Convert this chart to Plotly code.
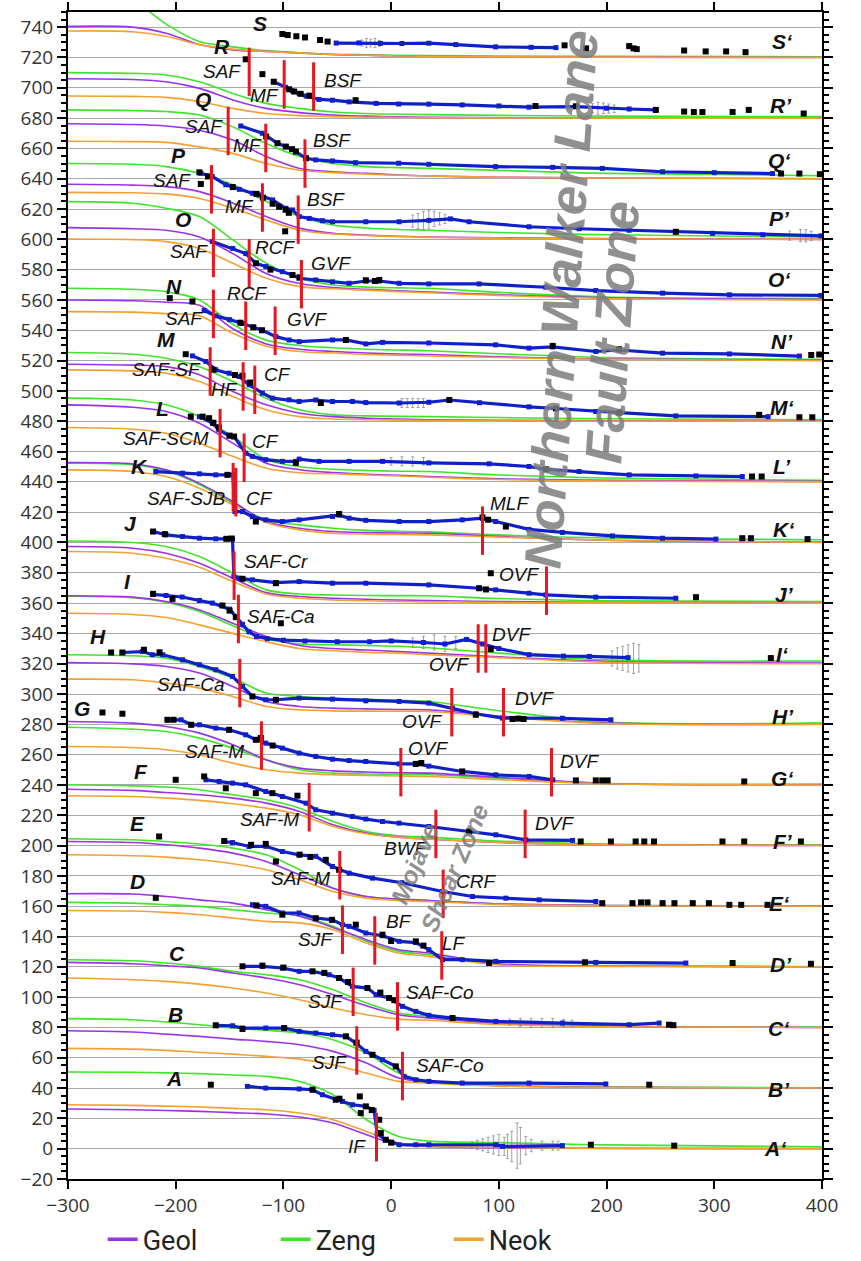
import plotly.graph_objects as go

# ---------------------------------------------------------------------------
# Fault-parallel velocity profiles A-A' ... S-S' (each offset by 40 mm/yr)
# ---------------------------------------------------------------------------
PROFILES = "ABCDEFGHIJKLMNOPQRS"

# distance along profile (km) at which the model curves are sampled
X_GRID = [-300, -240, -209, -178, -147, -116, -85, -54, -23, 7, 35, 100, 200, 400]

# --- model velocity curves (Geol / Zeng / Neok) -----------------------------
geol_A = [26.2, 25.7, 25.2, 24.6, 23.8, 22.9, 20.9, 16.9, 9.2, 2.6, 1.5, 0.6, 0.2, 0]
zeng_A = [50.6, 50.4, 50, 49.5, 48.6, 47.7, 44.4, 35.6, 19.1, 8, 5, 4, 2.5, 1.2]
neok_A = [29, 28.6, 28.1, 27.5, 26.6, 25.7, 23.5, 19.1, 11.4, 3.7, 2, 0.8, 0.3, 0]

geol_B = [77.8, 77, 75.6, 74.1, 72.3, 70.8, 68.6, 64.2, 56.5, 46.6, 43.8, 41.5, 40.5, 40]
zeng_B = [85.8, 85.1, 83.6, 81.8, 79.6, 78.1, 76.3, 71.9, 63.1, 49.9, 44.4, 41.8, 40.6, 40.2]
neok_B = [66.2, 65.7, 64.9, 63.5, 62.4, 60.9, 59.1, 55.4, 49.9, 44.4, 43.3, 41.3, 40.4, 40]

geol_C = [122.9, 122, 120.7, 119.2, 115.9, 112.6, 108.2, 101.6, 94.3, 88.4, 86.2, 82.5, 80.8, 80]
zeng_C = [124.7, 124, 122.5, 120.3, 117, 114.8, 111.5, 104.9, 96.1, 89.5, 87.3, 83, 81, 80.3]
neok_C = [112.6, 111.5, 110.4, 108.6, 106, 102.7, 98.3, 92.8, 88.4, 85.5, 84.7, 82, 80.5, 80]

geol_D = [168.2, 168, 166.4, 164.2, 162, 157.7, 153.3, 146, 137.9, 131.3, 129.1, 122, 120.5, 120]
zeng_D = [162.5, 162, 161, 159.9, 157.7, 155.5, 153.5, 146.7, 136.8, 130.2, 128, 121.5, 120.5, 120]
neok_D = [157.2, 156.8, 155.9, 154.4, 152.2, 150, 149, 144.5, 135.7, 129.1, 126.9, 121.2, 120.3, 120]

geol_E = [202.7, 202, 200.5, 198.3, 195, 189.5, 180.7, 171.9, 166.4, 164.7, 163.8, 161.5, 160.5, 160]
zeng_E = [204.5, 203.8, 202.7, 201, 198.3, 193.9, 184, 171.9, 166.4, 164.7, 163.8, 161.5, 160.5, 160.2]
neok_E = [193.9, 193.3, 192.4, 190.6, 188, 184, 177.4, 169.7, 165.3, 163.8, 163.1, 161.2, 160.3, 160]

geol_F = [237.2, 236.4, 235, 233.5, 231.3, 228, 222.5, 213.7, 208.2, 205.6, 204.3, 202, 200.5, 200]
zeng_F = [240.1, 239.4, 238.6, 236.8, 233.5, 230.2, 224.7, 215.9, 209.3, 206.5, 205.6, 203, 201, 200.5]
neok_F = [232.9, 232.4, 231.3, 229.8, 227.6, 224.7, 220.3, 212.6, 207.8, 205.4, 204.3, 202, 200.5, 200]

geol_G = [281.9, 280.8, 278.6, 274.2, 266.5, 256.6, 251.1, 249.3, 248.5, 248, 247.8, 245, 241, 240.2]
zeng_G = [278.1, 276.8, 275.3, 270.9, 264.3, 256.5, 250, 247.8, 247.2, 246.9, 246.7, 244.5, 241, 240.5]
neok_G = [265.4, 264.7, 263.2, 259.9, 254.4, 250, 247.8, 246.7, 246.2, 245.9, 245.6, 243.5, 240.8, 240]

geol_H = [320.8, 319.9, 318.2, 313.8, 305, 295.1, 291.8, 290.7, 290.2, 289.8, 289.6, 285.5, 280.8, 280]
zeng_H = [325.9, 325.2, 323.7, 318.2, 310.5, 300.6, 298.4, 297.3, 296.5, 295.8, 295.1, 289, 281.5, 281]
neok_H = [309.8, 309.4, 307.2, 303.9, 298.4, 291.8, 289.6, 288.9, 288.7, 288.6, 288.5, 285, 280.5, 280]

geol_I = [364.8, 363.9, 361, 355.5, 346.7, 338, 332, 330, 329, 328, 327, 324.5, 321.5, 320.5]
zeng_I = [364.5, 363.5, 360.5, 354.5, 345, 336.5, 333, 332.5, 332, 331.5, 330.5, 327, 322.5, 321.8]
neok_I = [353.3, 352.5, 350.5, 345.6, 340, 334.5, 330, 328.5, 327.5, 327, 326, 324, 321, 320]

geol_J = [397.3, 396.2, 392.9, 386.3, 376.4, 366.9, 364.3, 363.2, 362.5, 362, 361.7, 361, 360.5, 360]
zeng_J = [401, 400, 397.3, 390.7, 379.7, 368.7, 366, 365.3, 365, 364.9, 364.8, 363, 361.5, 361]
neok_J = [394, 392.9, 389.6, 383.7, 374.2, 366, 363.2, 362.1, 361.5, 361, 360.8, 360.4, 360.2, 360]

geol_K = [452.7, 451.8, 447.9, 439, 427, 413.8, 409.4, 407.2, 406.5, 406.2, 406.1, 404, 401.5, 400.3]
zeng_K = [452.3, 451.3, 447.3, 438.3, 426, 414.9, 411.6, 409.4, 408, 407.3, 407, 405, 403, 401.8]
neok_K = [447.9, 446.8, 443.5, 435.8, 424.8, 413.2, 408.3, 406.1, 405.5, 405.2, 405, 403.5, 401.5, 400]

geol_L = [490.8, 489.2, 486.4, 478.7, 465.5, 452.3, 448, 446.1, 445, 444.3, 443.5, 442, 441, 440.3]
zeng_L = [495.2, 494, 490.8, 483, 469.9, 454.8, 450, 448.3, 447.5, 447, 446.8, 444.5, 442.5, 441]
neok_L = [475.8, 474.7, 472, 465.5, 456.8, 449, 446, 445.3, 444.5, 443.8, 443, 441.5, 440.5, 440]

geol_M = [517.6, 517, 516, 510.6, 499.6, 490.8, 485.3, 483, 482, 481.5, 481, 480.6, 480.3, 480]
zeng_M = [525.3, 524.2, 521.5, 516, 506.2, 495.2, 487.5, 484.2, 483.5, 483.2, 483, 482.4, 481.6, 480.9]
neok_M = [513.9, 513.2, 511.7, 506.2, 496.3, 487.5, 483, 481.5, 481, 480.7, 480.5, 480.3, 480.1, 480]

geol_N = [560, 559.5, 558.5, 556.5, 541, 531, 527.5, 526, 525, 524.3, 524, 522.5, 521, 520.3]
zeng_N = [567.7, 567, 565.5, 560, 544, 533.5, 530, 528.5, 527.5, 527, 526.5, 524.5, 522, 520.8]
neok_N = [552.3, 552, 551, 549.5, 538, 529.5, 526, 525, 524, 523.5, 523, 522, 520.8, 520]

geol_O = [607.7, 607, 606, 601.6, 590.6, 577.5, 570.8, 568.2, 567, 566, 565.3, 563.5, 561.5, 560.5]
zeng_O = [624.9, 623.8, 620.5, 615, 599.6, 584.2, 574.3, 569.9, 568.5, 568, 567.7, 565, 562, 561]
neok_O = [600.2, 599.8, 598.5, 594, 584.2, 574.3, 568.8, 567.4, 566.5, 565.5, 564.8, 563, 561, 560]

geol_P = [636.3, 635.8, 634.8, 631.5, 624, 615, 607.4, 604, 602.8, 602, 601.5, 601, 600.5, 600]
zeng_P = [650, 649.5, 648, 643.6, 636, 625, 615, 609.5, 607.5, 606.5, 606, 604.5, 603, 601.5]
neok_P = [631, 630.7, 630, 627, 620.5, 612.8, 606, 603.5, 602.5, 601.8, 601.3, 600.8, 600.4, 600]

geol_Q = [676.3, 675.8, 674.8, 672, 665.5, 654.6, 646.8, 644.6, 643.5, 642.5, 641.8, 641, 640.5, 640]
zeng_Q = [685.4, 685, 684.3, 682, 674.2, 663.2, 654.6, 650, 648, 647.3, 646.8, 645.5, 643.5, 642]
neok_Q = [664.7, 664.5, 664, 661, 656.7, 650, 645.6, 644, 643, 642.3, 641.8, 641, 640.5, 640]

geol_R = [706, 705.5, 704, 699.6, 692, 686.4, 683.6, 682, 681.3, 680.8, 680.5, 680.2, 680, 680]
zeng_R = [710, 709.5, 708.4, 704, 696.3, 689.7, 686.4, 684, 683, 682.5, 682.3, 681.8, 681.3, 681]
neok_R = [694.6, 694.3, 693.7, 690.9, 686.4, 683, 681.6, 681, 680.6, 680.4, 680.3, 680.1, 680, 680]

geol_S = [740.5, 740, 736, 728.5, 725, 724, 723, 722, 721.5, 721, 720.8, 720.4, 720.2, 720]
zeng_S = [775, 758, 742, 730.5, 727, 724.5, 723, 722, 721.8, 721.5, 721.3, 721, 720.8, 720.5]
neok_S = [737.5, 737, 734, 728.5, 725.5, 724, 723, 722, 721.5, 721, 720.8, 720.4, 720.2, 720]

# --- smoothed GPS velocities (blue) ------------------------------------------
blue_A = [(-133.4, 41.1), (-116.4, 40), (-85.4, 39.4), (-73, 38.9), (-63.8, 35.6), (-51.4, 32.3),
          (-45.2, 31.2), (-35.9, 29), (-23.5, 27.9), (-15.8, 25.3), (-13, 10), (-5, 5.9), (7.4, 2.6),
          (22.9, 2.6), (35, 2.6), (97.2, 2.6), (103.4, 1.5), (159, 2)]
blue_B = [(-162.8, 81.4), (-147.3, 81.1), (-138, 79.6), (-116.4, 79.6), (-99.3, 79.6), (-85.4, 77.4),
          (-70, 76.3), (-54.5, 75.2), (-42, 74.1), (-32.8, 69.7), (-23.5, 64.2), (-17.3, 62), (-8, 58.7),
          (4.3, 54.3), (12, 47.7), (22.9, 45.5), (35, 44.4), (66, 43.3), (128, 43.3), (199.3, 42.7)]
blue_C = [(-138, 120.3), (-119.5, 120.3), (-101, 119.2), (-85.4, 117), (-73, 117), (-57.6, 114.8),
          (-48.3, 112.6), (-35.9, 107.1), (-22, 106), (-14, 101.6), (-1.9, 99.4), (10.5, 93.9),
          (22.9, 90.6), (35, 88), (57, 86.2), (97.2, 84), (159, 82.9), (221, 81.8), (248.8, 82.9)]
blue_D = [(-128.8, 161), (-116.4, 159.9), (-101, 155.5), (-85.4, 155.5), (-70, 152.2), (-54.5, 151),
          (-45.2, 147.8), (-39, 146.7), (-23.5, 142.3), (-8, 140.5), (7.4, 136.8), (22.9, 136),
          (35, 131.3), (47.7, 124.7), (66, 124.7), (97.2, 123.6), (190, 122.9), (273.6, 122.5)]
blue_E = [(-155, 202.7), (-147.3, 202), (-131.8, 199.4), (-116.4, 199.5), (-101, 196.1), (-85.4, 193.9),
          (-70, 192.9), (-54.5, 186.2), (-39, 181.8), (-17.3, 178.5), (10, 175.5), (47.7, 169.7),
          (75.5, 166.4), (106.5, 165.3), (137.4, 164.2), (190, 163.1)]
blue_F = [(-172, 243.4), (-159.7, 242.3), (-147.3, 241.2), (-135, 240.1), (-116.4, 235.7), (-101, 232.4),
          (-79, 228), (-70, 223.6), (-54.5, 221.4), (-36, 219.2), (-23.5, 217.5), (-8, 215.9),
          (7.4, 214.8), (35, 212.6), (72.4, 209.3), (97.2, 207.1), (125, 203.8), (168.4, 203.4)]
blue_G = [(-207.7, 283), (-195, 283), (-185.6, 279.7), (-178, 279.7), (-162.8, 277.5), (-150.4, 276.4),
          (-135, 273.1), (-125.6, 269.8), (-116.4, 267.6), (-101, 264.3), (-85.4, 261), (-70, 258.8),
          (-54.5, 257), (-39, 256.1), (-23.5, 255.5), (7.4, 253.9), (22.9, 253.9), (35, 252.4),
          (66, 248.9), (97.2, 246.7), (128, 245.6), (150, 243.4)]
blue_H = [(-249.5, 327.4), (-231, 328), (-221.7, 325.9), (-212, 325.9), (-193.7, 322.6), (-178, 319.3),
          (-162.8, 316), (-147.3, 311.6), (-138, 305), (-128.8, 298.4), (-116.4, 296.2), (-107, 296.2),
          (-85.4, 297.3), (-54.5, 296.6), (-23.5, 295.5), (7.4, 295.1), (35, 294), (57, 290.7),
          (78.6, 287), (103.4, 284.1), (159, 284), (204, 283)]
blue_I = [(-221, 365.7), (-209, 365), (-194, 364), (-178, 361.7), (-166, 360), (-150, 356), (-144, 351),
          (-138, 346), (-132, 341), (-125, 338), (-115, 336.5), (-100, 335.5), (-80, 335), (-50, 334.5),
          (-20, 334.5), (0, 335), (30, 334), (50, 333), (70, 336), (85, 333), (100, 330), (128, 326),
          (160, 325), (184, 324.8), (220, 324)]
blue_J = [(-221, 407.2), (-209, 405), (-193.7, 403.9), (-178, 402.8), (-162.8, 402.4), (-147.3, 402.4),
          (-146, 377.5), (-141, 376.4), (-128.8, 375.3), (-107, 373.5), (-85.4, 374.2), (-54.5, 373.1),
          (-23.5, 373.1), (35, 372), (81.7, 369.8), (97, 368.7), (128, 366.5), (143.6, 365.4),
          (190, 363.9), (264.3, 363.2)]
blue_K = [(-218.5, 446.8), (-193.7, 445.7), (-178, 445.3), (-162.8, 444.6), (-147, 444.6), (-145, 420.4),
          (-138, 420.4), (-128.8, 417), (-116.4, 414.9), (-101, 413.8), (-85.4, 414.9), (-54.5, 417.1),
          (-48.3, 418), (-39, 416), (-23.5, 414.6), (7.4, 413.8), (35, 413.8), (66, 414.9), (84.8, 416),
          (97, 413.8), (128, 408.6), (159, 406.6), (205.5, 404.3), (252, 402.8), (301.5, 402.2)]
blue_L = [(-178, 483), (-166, 478.7), (-160, 474.3), (-150.4, 470.3), (-145.8, 469.9), (-135, 458.9),
          (-128.8, 456.8), (-116.4, 454.6), (-101, 453.5), (-88.5, 453.5), (-85.4, 455), (-66.9, 453.5),
          (-39, 453.5), (-8, 453.5), (35, 452.5), (91, 451.9), (128, 450.1), (143.6, 448.3),
          (174.5, 446.8), (221, 444.6), (283, 443.9), (326, 443.5)]
blue_M = [(-184.5, 523.1), (-172, 519.4), (-162.8, 513.9), (-150.4, 511.7), (-141, 509.5), (-131.8, 504),
          (-119.5, 498.5), (-110.2, 495.2), (-94.7, 494.1), (-85.4, 493), (-70, 494), (-54.5, 493),
          (-36, 493), (-23.5, 492.3), (7.4, 492), (35, 492.5), (54, 494), (82, 492.2), (128, 489.5),
          (153, 488.4), (190, 486.4), (211.7, 485.7), (264.3, 483.5), (350, 483)]
blue_N = [(-173.6, 553), (-162.8, 549.5), (-150, 547), (-138, 544.5), (-119.5, 540), (-107, 535.8),
          (-94.7, 533.6), (-85.4, 532.5), (-54.5, 533.6), (-42, 533.6), (-23.5, 531), (-8, 532),
          (35, 531.6), (97, 530.4), (128, 528.2), (150, 529), (190, 526), (211.7, 527), (252, 524.9),
          (314, 524.4), (379, 523)]
blue_O = [(-166, 598.5), (-147, 594), (-135, 590.6), (-125.6, 584.2), (-116.4, 582), (-101, 578.7),
          (-91.6, 576.5), (-85.4, 574.3), (-70, 573.2), (-54.5, 572), (-39, 571), (-23.5, 572.5),
          (-11, 572.5), (7.4, 571), (35, 570.6), (81.7, 570.6), (143.6, 568.4), (190, 566.2),
          (252, 564.5), (314, 563.4), (399, 563)]
blue_P = [(-176.7, 643.6), (-166, 641.4), (-153.5, 636), (-141, 633), (-128.8, 630.4), (-122.6, 629.3),
          (-110, 626), (-97.8, 620.5), (-91.6, 619.4), (-85.4, 615), (-76, 613.8), (-63.8, 612.3),
          (-54.5, 611.6), (-23.5, 611.6), (7.4, 611.6), (35, 612.5), (55, 613.5), (72.4, 611.6),
          (128, 608.3), (174.5, 607), (221, 606), (264.3, 605), (298.4, 604), (345, 603), (399, 602.3)]
blue_Q = [(-139.6, 674.8), (-119.5, 670), (-105.5, 663.4), (-97.8, 661.2), (-88.5, 657.9), (-79, 653.5),
          (-70, 652.4), (-54.5, 651.7), (-33, 650.6), (7, 650.2), (35, 649.5), (97, 648), (150, 647.5),
          (196, 646.8), (252, 644.6), (300, 644), (354, 643.4)]
blue_R = [(-109, 704), (-98, 700.3), (-91.6, 698), (-85.4, 696.3), (-79, 694.5), (-67, 692.3),
          (-54.5, 691.8), (-39, 690.7), (-14, 689.7), (7, 689.3), (35, 689.2), (66, 688.7), (100, 688),
          (128, 687.2), (171.5, 687.6), (200, 686.5), (221, 686), (245.7, 685.4)]
blue_S = [(-51, 729.5), (-30, 729.6), (-10, 729.3), (10, 729.2), (35, 729.4), (60, 728.5), (97, 727),
          (130, 726.7), (153, 726.5)]

# --- individual GPS stations (black) ------------------------------------------
black_A = [(-167.4, 42.2), (-73, 38.9), (-51.4, 32.3), (-48, 33), (-29.1, 34.5), (-28.2, 23.5),
           (-23.5, 27.9), (-18, 25.5), (-11.1, 19.1), (-9.6, 10.3), (-5, 5.9), (0, 4), (185.4, 2.6),
           (262.8, 2)]
black_B = [(-162.8, 81.4), (-138, 79), (-99.3, 79.6), (-42, 74.1), (-32, 70), (-17.3, 62), (4.3, 54.3),
           (239.6, 42.2)]
black_C = [(-138, 120.3), (-119.5, 120.8), (-100, 119.5), (-73, 117), (-62, 116), (-48.3, 112.6),
           (-40, 110), (-22, 106), (-10, 103), (-1.9, 99.4), (3, 98), (57, 86.2), (258, 81.8), (262, 81.5)]
black_D = [(-218.5, 165.5), (-125, 160.5), (-101, 154.4), (-70, 152), (-55, 151), (-32.8, 147.8),
           (-8, 141.2), (0, 137), (22.9, 136.8), (30, 134), (91, 122.5), (180, 123), (317, 122.5),
           (389.7, 122)]
black_E = [(-215.4, 206), (-155, 203), (-130, 200.5), (-116.4, 201.1), (-107, 189.5), (-85, 194),
           (-75, 192.5), (-60.7, 190.6), (-48.3, 184), (196, 162), (224, 162), (232, 162.5), (238, 162.5),
           (252, 162), (263, 162), (280, 162), (295, 162), (314, 160.9), (325, 160.9), (349.4, 160.9)]
black_F = [(-200, 243.4), (-173.6, 245.6), (-153.5, 237.8), (-125.6, 234.6), (-110.2, 234.6),
           (-87, 232.9), (72.4, 209.3), (176, 202.7), (204, 202.7), (227, 202.7), (235, 202.7),
           (244, 202.7), (307.6, 202.7), (327.8, 202.7), (380.4, 202.7)]
black_G = [(-268, 287.8), (-249.5, 287), (-207.7, 283), (-202, 283), (-185.6, 279.7), (-150.4, 276.4),
           (-125.6, 269.8), (-121, 271), (-110, 266), (22.9, 253.9), (28, 254.5), (66, 248.9),
           (171.5, 243), (190, 243), (196, 243), (201, 243), (327.8, 242.3)]
black_H = [(-260, 327.4), (-249.5, 327.4), (-229.5, 329.2), (-215, 327.5), (-128.8, 298.4),
           (-107, 296.2), (78.6, 286.3), (112.7, 283.5), (118, 283.8), (123, 283.5)]
black_I = [(-221, 366.1), (-203, 362.8), (-156.6, 358.4), (-150, 355), (-144.2, 350.7), (-102.4, 346.7),
           (92.5, 329.6), (352.5, 323.7)]
black_J = [(-221, 407.2), (-210, 405.5), (-153, 402.4), (-148, 402.6), (-138, 376), (-107, 373.1),
           (81.7, 369.8), (88, 369), (92.5, 379.7), (283, 363.9)]
black_K = [(-152, 444.6), (-125.6, 413.8), (-48.3, 418.8), (84.8, 416.5), (90, 415), (106.5, 410.5),
           (326, 402.8), (334, 402.8), (386.6, 402.2)]
black_L = [(-186, 483), (-175, 483), (-169, 482), (-165, 479), (-160, 476), (-150, 470.5),
           (-145.8, 469.9), (-88.5, 452.5), (143.6, 448.3), (335, 443.5), (344, 443.5)]
black_M = [(-190.7, 524.2), (-165, 514), (-145, 510.5), (-138, 510), (-131, 505.5), (-65.3, 492),
           (54, 494), (153, 488.4), (211.7, 485.7), (341.7, 484.2), (379, 482.6), (391, 482.6)]
black_N = [(-205.5, 561.2), (-184.5, 559), (-140, 545), (-128, 542), (-120, 540), (-42, 533.6),
           (150, 529.7), (211.7, 527.5), (390, 523.7), (397.4, 524)]
black_O = [(-125.6, 584.2), (-112, 580), (-91.6, 576.5), (-85, 575), (-23.5, 573), (-15, 572.5),
           (-11, 573.2)]
black_P = [(-178, 644.2), (-176.7, 636.5), (-170, 641.5), (-147, 634.5), (-125, 630), (-119, 627.5),
           (-110, 623.5), (-104, 621.5), (-98, 619.5), (-95, 617.5), (-98.4, 605.3), (264.3, 605)]
black_Q = [(-116, 667.8), (-105.5, 663.4), (-97.8, 661.2), (-92, 659.5), (-88.5, 657.9), (-79, 653.5),
           (362, 643.4), (379, 643.4), (398, 643)]
black_R = [(-135, 718.8), (-119.5, 709), (-109, 704), (-94.7, 699), (-90, 697.5), (-84, 696),
           (-76, 694.8), (-33, 691.8), (134, 688), (171.5, 687.8), (245.7, 685.4), (272, 684.3),
           (281, 684), (289, 684), (317, 684), (332, 685.4), (383, 683)]
black_S = [(-101, 735.5), (-96, 734.8), (-88, 734), (-80, 733.2), (-66, 731.5), (-59, 730.5),
           (161, 728), (181, 726), (221, 727.5), (225, 726), (228, 725.5), (272, 724.6), (292, 724),
           (311, 724), (329, 723.5)]

# --- velocity uncertainties (x, y, +/- error) ---------------------------------
err_A = [(75, 2.5, 2), (80, 2.5, 3), (85, 2.5, 4), (90, 2.5, 5), (95, 2.5, 6), (100, 2.5, 7),
         (105, 1.5, 6), (108, 1.5, 8), (112, 1.5, 10), (117, 2, 15), (120, 2, 12), (125, 2, 6),
         (130, 2, 4), (140, 2, 3), (150, 2, 3), (155, 2, 3)]
err_C = [(110, 83.5, 2), (120, 83.3, 2.5), (130, 83, 3), (140, 83, 3), (150, 83, 3), (160, 82.8, 2.5),
         (168, 82.8, 2)]
err_I = [(20, 334, 3), (30, 334, 4), (40, 334, 5), (50, 333, 5), (60, 334, 4), (205, 323.5, 5),
         (210, 323.5, 7), (215, 323.5, 8), (220, 323.5, 9), (225, 323.5, 10), (230, 323.5, 9)]
err_L = [(0, 453.5, 2.5), (10, 453.5, 3), (20, 453.5, 3), (30, 453.5, 2.5)]
err_M = [(10, 492, 3), (15, 492, 3), (20, 492, 3), (25, 492, 3), (30, 492, 3)]
err_P = [(20, 612, 4), (25, 612, 5), (30, 612.5, 6), (35, 613, 6), (40, 613.5, 5), (45, 613.5, 4),
         (50, 613.5, 3), (370, 602.5, 3), (380, 602.5, 4), (385, 602.3, 4), (390, 602.3, 3)]
err_R = [(187, 686.5, 3), (192, 686.5, 4), (197, 686.5, 3.5), (202, 686.3, 3), (207, 686.2, 2.5)]
err_S = [(-27, 729.5, 2), (-23, 729.5, 3), (-19, 729.5, 2.5), (-15, 729.5, 3), (-11, 729.3, 2)]

# --- mapped faults: (position km, velocity level at mid-segment) -------------
faults_A = [(-13.6, 7.6)]
faults_B = [(-31.9, 64.8), (10.5, 47.9)]
faults_C = [(-35.3, 103.5), (5.9, 93.9)]
faults_D = [(-45.2, 144.5), (-15.2, 137.4), (47, 127.5)]
faults_E = [(-47.7, 180.4), (48.3, 168.1)]
faults_F = [(-76.1, 225.3), (41.5, 207.7), (124.4, 207.7)]
faults_G = [(-120.4, 266), (9, 248.4), (148.9, 248.4)]
faults_H = [(-140.5, 307.2), (56.3, 288), (104.3, 288)]
faults_I = [(-141.8, 349.5), (80.8, 330), (87.9, 330)]
faults_J = [(-145.8, 378.1), (144.2, 368.2)]
faults_K = [(-146.7, 436.5), (-144.2, 433.2), (84.8, 407.8)]
faults_L = [(-158.8, 472.1), (-136.5, 455.9)]
faults_M = [(-168, 512.8), (-137.4, 502.9), (-126.6, 500.7)]
faults_N = [(-165, 550.8), (-135, 543), (-107.7, 539.7)]
faults_O = [(-165, 591), (-131.8, 584.1), (-83.3, 570.4)]
faults_P = [(-166.8, 633), (-119.5, 621), (-86.3, 613)]
faults_Q = [(-151.3, 671.5), (-116.4, 660.3), (-80, 650)]
faults_R = [(-131.8, 710.5), (-99.3, 702.2), (-72, 700.8)]
faults_S = []

# fault names and where they are written
fault_names = [
    ("SAF", -156.6, 710.5), ("MF", -118, 695.2), ("BSF", -45, 705),
    ("SAF", -173.6, 674.2), ("MF", -133.4, 661.6), ("BSF", -54.5, 665.5),
    ("SAF", -203, 639), ("MF", -141, 621.6), ("BSF", -60.7, 626),
    ("SAF", -187.6, 591.9), ("RCF", -107.7, 594.8), ("GVF", -56, 584.2),
    ("SAF", -192, 547.5), ("RCF", -133.4, 564.4), ("GVF", -78, 546.8),
    ("SAF-SF", -209, 513.9), ("HF", -155, 500.7), ("CF", -105.5, 510.6),
    ("SAF-SCM", -209, 468.8), ("CF", -116.4, 466.6),
    ("SAF-SJB", -190.6, 429.2), ("CF", -122.6, 429.2), ("MLF", 109.6, 426),
    ("SAF-Cr", -107, 387.4), ("OVF", 118.9, 378.6),
    ("SAF-Ca", -102.4, 351), ("OVF", 53.9, 319.3), ("DVF", 112, 339),
    ("SAF-Ca", -186, 306), ("OVF", 29, 282), ("DVF", 132.8, 297.3),
    ("SAF-M", -164.3, 262.1), ("OVF", 34, 264.3), ("DVF", 174.5, 255.5),
    ("SAF-M", -113.3, 217), ("BWF", 13.6, 198.4), ("DVF", 151.3, 214.8),
    ("SAF-M", -83.9, 178.5), ("CRF", 78.6, 176.3),
    ("SJF", -70, 137.9), ("BF", 7.4, 150), ("LF", 58.7, 135.7),
    ("SJF", -60.7, 97.2), ("SAF-Co", 45, 103.1),
    ("SJF", -57.6, 57.2), ("SAF-Co", 54.5, 55),
    ("IF", -31.3, 1.5),
]

# profile end labels
start_labels = [("A", -201.5, 46.6), ("B", -200, 88.4), ("C", -198.4, 129), ("D", -235.5, 176.3),
                ("E", -235.5, 214.8), ("F", -232.4, 248.9), ("G", -286.6, 290.7), ("H", -272.6, 337.9),
                ("I", -244.8, 374.2), ("J", -241.7, 412.7), ("K", -234, 450.3), ("L", -212, 488.6),
                ("M", -209, 533.6), ("N", -201.5, 568.6), ("O", -193.7, 612.8), ("P", -197, 655.6),
                ("Q", -175, 692), ("R", -156.6, 727), ("S", -122, 742.5)]
end_labels = [("A\u2018", 357.2, 0.4), ("B\u2019", 360.3, 38.9), ("C\u2018", 360.3, 79.6),
              ("D\u2019", 361.8, 121.4), ("E\u2018", 360.3, 162), ("F\u2019", 363.4, 202.7),
              ("G\u2018", 363.4, 244.5), ("H\u2019", 363.4, 285.2), ("I\u2018", 363.4, 325.9),
              ("J\u2019", 365, 365.4), ("K\u2018", 365, 408.3), ("L\u2019", 363, 450),
              ("M\u2018", 363, 489.2), ("N\u2019", 363, 532.5), ("O\u2018", 361, 573.2),
              ("P\u2019", 361, 614), ("Q\u2018", 361, 652), ("R\u2019", 362, 688), ("S\u2018", 363, 730.5)]

# ---------------------------------------------------------------------------
g = globals()
MODELS = [("Zeng", "#3fe52b", "zeng"), ("Geol", "#9a33e6", "geol"), ("Neok", "#f4a133", "neok")]
FAULT_HALF = 16  # half length of the fault ticks (mm/yr)

fig = go.Figure()

# model curves
for name, color, key in MODELS:
    for p in PROFILES:
        fig.add_trace(go.Scatter(
            x=X_GRID, y=g[f"{key}_{p}"], mode="lines",
            line=dict(color=color, width=1.6, shape="spline", smoothing=0.9),
            showlegend=False, hoverinfo="skip"))

# uncertainties
for p in PROFILES:
    errs = g.get(f"err_{p}")
    if errs:
        fig.add_trace(go.Scatter(
            x=[e[0] for e in errs], y=[e[1] for e in errs], mode="markers",
            marker=dict(size=1, color="#888"),
            error_y=dict(type="data", array=[e[2] for e in errs], color="#8a8a8a",
                         thickness=0.8, width=1.5),
            showlegend=False, hoverinfo="skip"))

# smoothed velocities
for p in PROFILES:
    pts = g[f"blue_{p}"]
    fig.add_trace(go.Scatter(
        x=[q[0] for q in pts], y=[q[1] for q in pts], mode="lines+markers",
        line=dict(color="#1020c8", width=3.2),
        marker=dict(symbol="square", size=5, color="#1020c8"),
        showlegend=False, hoverinfo="skip"))

# station velocities
for p in PROFILES:
    pts = g[f"black_{p}"]
    fig.add_trace(go.Scatter(
        x=[q[0] for q in pts], y=[q[1] for q in pts], mode="markers",
        marker=dict(symbol="square", size=6, color="black"),
        showlegend=False, hoverinfo="skip"))

# faults
fx, fy = [], []
for p in PROFILES:
    for xf, yc in g[f"faults_{p}"]:
        fx += [xf, xf, None]
        fy += [yc - FAULT_HALF, yc + FAULT_HALF, None]
fig.add_trace(go.Scatter(x=fx, y=fy, mode="lines", line=dict(color="#e8161e", width=3),
                         showlegend=False, hoverinfo="skip"))

# legend entries
for name, color, key in [MODELS[1], MODELS[0], MODELS[2]]:
    fig.add_trace(go.Scatter(x=[None], y=[None], mode="lines", name=name,
                             line=dict(color=color, width=3.5)))

LABEL_FONT = dict(family="Liberation Sans, Arial, sans-serif", size=19, color="#111", style="italic")
LETTER_FONT = dict(family="Liberation Sans, Arial, sans-serif", size=21, color="#111",
                   style="italic", weight="bold")

for text, xl, yl in fault_names:
    fig.add_annotation(x=xl, y=yl, text=text, showarrow=False, font=LABEL_FONT)
for text, xl, yl in start_labels + end_labels:
    fig.add_annotation(x=xl, y=yl, text=text, showarrow=False, font=LETTER_FONT)

ZONE_FONT = dict(family="Liberation Sans, Arial, sans-serif", color="rgba(125,125,125,0.85)",
                 style="italic", weight="bold")
fig.add_annotation(x=157.8, y=560, text="Northern Walker Lane", showarrow=False, textangle=-86,
                   font=dict(ZONE_FONT, size=52))
fig.add_annotation(x=205, y=539, text="Fault Zone", showarrow=False, textangle=-86,
                   font=dict(ZONE_FONT, size=52))
fig.add_annotation(x=21.4, y=188, text="Mojave", showarrow=False, textangle=-67,
                   font=dict(ZONE_FONT, size=25))
fig.add_annotation(x=58.5, y=185.4, text="Shear Zone", showarrow=False, textangle=-67,
                   font=dict(ZONE_FONT, size=25))

TICK_FONT = dict(family="Open Sans, sans-serif", size=19, color="#333")
fig.update_layout(
    width=861, height=1261,
    margin=dict(l=68, r=39, t=12, b=82, autoexpand=False),
    paper_bgcolor="white", plot_bgcolor="white",
    showlegend=True,
    legend=dict(orientation="h", x=0.046, xanchor="left", y=-0.031, yanchor="top",
                font=dict(family="Roboto, sans-serif", size=27, color="#222"),
                entrywidth=128, entrywidthmode="pixels", bgcolor="rgba(0,0,0,0)"),
    xaxis=dict(range=[-300, 400], tickvals=list(range(-300, 401, 100)), ticks="outside",
               ticklen=8, tickwidth=1.5, tickcolor="black", showline=True, linewidth=2,
               linecolor="black", mirror="allticks", showgrid=False, zeroline=False,
               tickfont=TICK_FONT),
    yaxis=dict(range=[-20, 750], tickvals=list(range(-20, 741, 20)), ticks="outside",
               ticklen=9, tickwidth=1.5, tickcolor="black", showline=True, linewidth=2,
               linecolor="black", mirror="allticks", showgrid=True, gridcolor="#a8a8a8",
               gridwidth=1, zeroline=False, tickfont=TICK_FONT,
               minor=dict(dtick=5, tick0=0, ticks="outside", ticklen=5, tickcolor="black",
                          showgrid=False)),
)

fig.write_html("out.html")
